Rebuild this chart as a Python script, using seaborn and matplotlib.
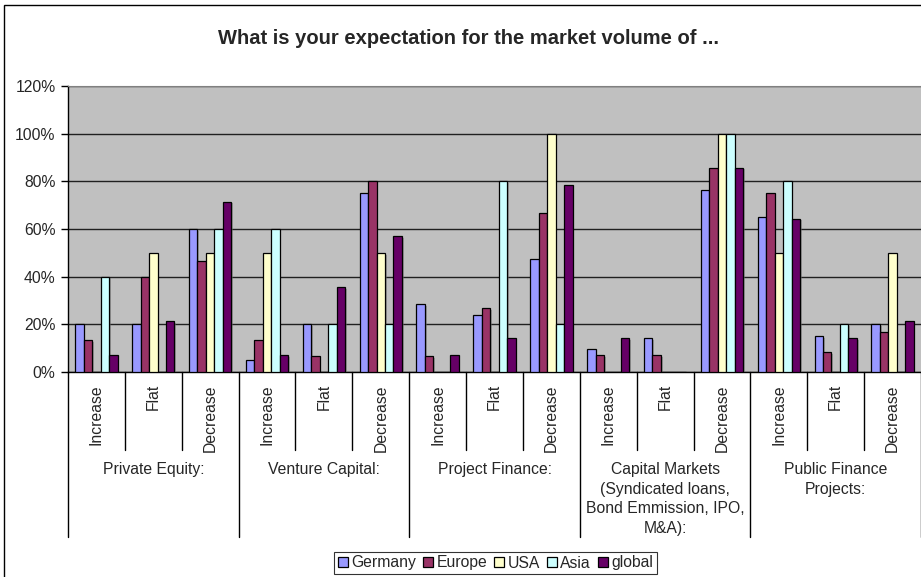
import matplotlib
matplotlib.use("Agg")
import matplotlib.pyplot as plt
import matplotlib.patheffects as pe
from matplotlib.patches import Rectangle
from matplotlib.transforms import blended_transform_factory
import seaborn as sns
import pandas as pd

# data (percent of respondents)
groups = ["Private Equity:", "Venture Capital:", "Project Finance:",
          "Capital Markets\n(Syndicated loans,\nBond Emmission, IPO,\nM&A):",
          "Public Finance\nProjects:"]
subs = ["Increase", "Flat", "Decrease"]
regions = ["Germany", "Europe", "USA", "Asia", "global"]

germany = [20, 20, 60, 5, 20, 75, 28.6, 23.8, 47.6, 9.5, 14.3, 76.2, 65, 15, 20]
europe = [13.3, 40, 46.7, 13.3, 6.7, 80, 6.7, 26.7, 66.7, 7.1, 7.1, 85.7, 75, 8.3, 16.7]
usa = [0, 50, 50, 50, 0, 50, 0, 0, 100, 0, 0, 100, 50, 0, 50]
asia = [40, 0, 60, 60, 20, 20, 0, 80, 20, 0, 0, 100, 80, 20, 0]
world = [7.1, 21.4, 71.4, 7.1, 35.7, 57.1, 7.1, 14.3, 78.6, 14.3, 0, 85.7, 64.3, 14.3, 21.4]

colors = {"Germany": "#9999FF", "Europe": "#993366", "USA": "#FFFFCC",
          "Asia": "#CCFFFF", "global": "#660066"}

# long table for seaborn
keys = [f"{g}|{s}" for g in groups for s in subs]
rows = []
for reg, vals in zip(regions, [germany, europe, usa, asia, world]):
    for k, v in zip(keys, vals):
        rows.append({"cat": k, "region": reg, "value": v / 100})
df = pd.DataFrame(rows)

sns.set_style("white")
plt.rcParams["font.family"] = ["Liberation Sans", "DejaVu Sans"]
FS = 11.3

W, H = 921, 577
fig = plt.figure(figsize=(W / 100, H / 100), dpi=100)
fig.patch.set_facecolor("white")

# plot area in pixel terms
x0, x1, y0, y1 = 68, 921, 86, 372
ax = fig.add_axes([x0 / W, 1 - y1 / H, (x1 - x0) / W, (y1 - y0) / H])
ax.set_facecolor("#C0C0C0")

sns.barplot(data=df, x="cat", y="value", hue="region", order=keys,
            hue_order=regions, palette=colors, saturation=1, width=0.745,
            edgecolor="black", linewidth=0.9, ax=ax, zorder=3)

shadow = [pe.SimplePatchShadow(offset=(1.2, -1.2), shadow_rgbFace="#707070", alpha=0.5),
          pe.Normal()]
for p in ax.patches:
    p.set_path_effects(shadow)

ax.set_xlim(-0.5, len(keys) - 0.5)
ax.set_ylim(0, 1.2)
ax.set_yticks([0, 0.2, 0.4, 0.6, 0.8, 1.0, 1.2])
ax.set_yticklabels(["0%", "20%", "40%", "60%", "80%", "100%", "120%"], fontsize=FS)
ax.yaxis.grid(True, color="#202020", linewidth=1.0, zorder=1)
ax.set_axisbelow(True)
ax.tick_params(axis="y", direction="out", length=5, width=1, color="black", pad=4, left=True)
ax.tick_params(axis="x", length=0, labelbottom=False)
ax.set_xlabel("")
ax.set_ylabel("")
for side in ["left", "bottom"]:
    ax.spines[side].set_color("black")
    ax.spines[side].set_linewidth(1)
ax.spines["top"].set_color("#808080")
ax.spines["right"].set_visible(False)

# two-level category axis
ph = y1 - y0
tr = blended_transform_factory(ax.transData, ax.transAxes)
for i, k in enumerate(keys):
    sub = k.split("|")[1]
    ax.text(i, -12 / ph, sub, rotation=90, ha="center", va="top", fontsize=FS,
            transform=tr)
for i in range(len(keys) + 1):
    xb = i - 0.5
    bottom = -(537 - y1) / ph if i % 3 == 0 else -(450 - y1) / ph
    ax.plot([xb, xb], [0, bottom], color="black", linewidth=1, transform=tr,
            clip_on=False)
for j, g in enumerate(groups):
    ax.text(3 * j + 1, -(462 - y1) / ph, g, ha="center", va="top", fontsize=FS,
            linespacing=1.38, transform=tr)

# legend
handles, labels = ax.get_legend_handles_labels()
if ax.legend_:
    ax.legend_.remove()
for h in handles:
    h.set_path_effects([])
leg = fig.legend(handles, labels, loc="center", ncol=5,
                 bbox_to_anchor=(495.5 / W, 1 - 563 / H), bbox_transform=fig.transFigure,
                 fontsize=FS, frameon=True, fancybox=False, shadow=False,
                 handlelength=0.65, handleheight=0.65, handletextpad=0.2,
                 columnspacing=0.45, borderpad=0.25, borderaxespad=0)
leg.get_frame().set_edgecolor("black")
leg.get_frame().set_linewidth(0.8)

# title
fig.text(468.5 / W, 1 - 38 / H, "What is your expectation for the market volume of ...",
         ha="center", va="center", fontsize=14.5, fontweight="bold")

# chart border
fig.patches.append(Rectangle((4 / W, -0.05), 1.1, 1.05 - 5 / H, transform=fig.transFigure,
                             fill=False, edgecolor="black", linewidth=1))

fig.savefig("out.png", dpi=100)
